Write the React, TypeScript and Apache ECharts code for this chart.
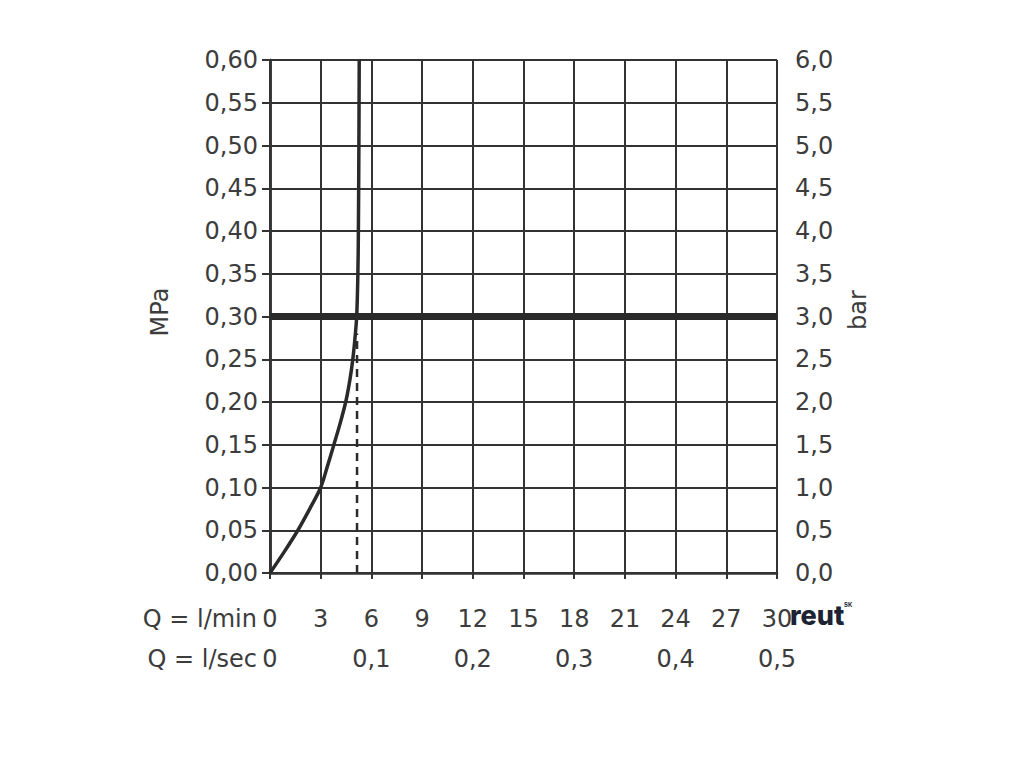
import React, { useEffect, useRef } from "react";
import * as echarts from "echarts";

const curvePressure = [0, 0.025, 0.05, 0.075, 0.1, 0.125, 0.15, 0.175, 0.2, 0.225, 0.25, 0.275, 0.3, 0.35, 0.4, 0.5, 0.6];
const curveFlow = [0, 0.85, 1.65, 2.35, 3.0, 3.4, 3.78, 4.15, 4.48, 4.72, 4.9, 5.03, 5.13, 5.2, 5.23, 5.26, 5.28];
const dashedFlow = 5.15;
const dashedTop = 0.28;
const limitPressure = 0.3;
const minTicks = [0, 3, 6, 9, 12, 15, 18, 21, 24, 27, 30];
const secTicks = [0, 0.1, 0.2, 0.3, 0.4, 0.5];

const FONT = "DejaVu Sans";
const TXT = "#3c3c3c";
const LINE = "#333333";

export default function App() {
  const ref = useRef<HTMLDivElement>(null);
  useEffect(() => {
    if (!ref.current) return;
    const chart = echarts.init(ref.current, undefined, { renderer: "svg" });
    const comma = (v: number, d: number) => v.toFixed(d).replace(".", ",");
    chart.setOption({
      animation: false,
      backgroundColor: "#ffffff",
      grid: { left: 270, right: 247, top: 60, bottom: 195, containLabel: false },
      xAxis: [
        {
          type: "value",
          min: minTicks[0],
          max: minTicks[minTicks.length - 1],
          interval: 3,
          position: "bottom",
          axisLine: { show: true, lineStyle: { color: LINE, width: 2.5 } },
          axisTick: { show: true, length: 6, lineStyle: { color: LINE, width: 2 } },
          splitLine: { show: true, lineStyle: { color: LINE, width: 2 } },
          axisLabel: {
            color: TXT, fontFamily: FONT, fontSize: 24, margin: 34,
            formatter: (v: number) => String(v),
          },
        },
        {
          type: "value",
          min: secTicks[0],
          max: secTicks[secTicks.length - 1],
          interval: 0.1,
          position: "bottom",
          offset: 40,
          axisLine: { show: false },
          axisTick: { show: false },
          splitLine: { show: false },
          axisLabel: {
            color: TXT, fontFamily: FONT, fontSize: 24, margin: 34,
            formatter: (v: number) => (v === 0 ? "0" : comma(v, 1)),
          },
        },
      ],
      yAxis: [
        {
          type: "value",
          min: 0,
          max: 0.6,
          interval: 0.05,
          position: "left",
          axisLine: { show: true, lineStyle: { color: LINE, width: 2.5 } },
          axisTick: { show: true, length: 8, lineStyle: { color: LINE, width: 2 } },
          splitLine: { show: true, lineStyle: { color: LINE, width: 2 } },
          axisLabel: {
            color: TXT, fontFamily: FONT, fontSize: 24, margin: 12,
            formatter: (v: number) => comma(v, 2),
          },
        },
        {
          type: "value",
          min: 0,
          max: 6,
          interval: 0.5,
          position: "right",
          axisLine: { show: true, lineStyle: { color: LINE, width: 2.5 } },
          axisTick: { show: true, length: 8, lineStyle: { color: LINE, width: 2 } },
          splitLine: { show: false },
          axisLabel: {
            color: TXT, fontFamily: FONT, fontSize: 24, margin: 18,
            formatter: (v: number) => comma(v, 1),
          },
        },
      ],
      series: [
        {
          type: "line",
          xAxisIndex: 0,
          yAxisIndex: 0,
          data: [[0, limitPressure], [30, limitPressure]],
          symbol: "none",
          lineStyle: { color: "#2a2a2a", width: 7 },
          z: 3,
        },
        {
          type: "line",
          xAxisIndex: 0,
          yAxisIndex: 0,
          data: [[dashedFlow, 0], [dashedFlow, dashedTop]],
          symbol: "none",
          lineStyle: { color: "#2a2a2a", width: 2.5, type: [8, 6] },
          z: 4,
        },
        {
          type: "line",
          xAxisIndex: 0,
          yAxisIndex: 0,
          data: curveFlow.map((q, i) => [q, curvePressure[i]]),
          symbol: "none",
          smooth: 0.3,
          lineStyle: { color: "#2a2a2a", width: 3.5 },
          z: 5,
        },
      ],
      graphic: [
        {
          type: "text", x: 257, y: 619,
          style: { text: "Q = l/min", font: `24px "${FONT}"`, fill: TXT, align: "right", verticalAlign: "middle" },
        },
        {
          type: "text", x: 257, y: 659,
          style: { text: "Q = l/sec", font: `24px "${FONT}"`, fill: TXT, align: "right", verticalAlign: "middle" },
        },
        {
          type: "text", x: 160, y: 312, rotation: Math.PI / 2,
          style: { text: "MPa", font: `24px "${FONT}"`, fill: TXT, align: "center", verticalAlign: "middle" },
        },
        {
          type: "text", x: 858, y: 310, rotation: Math.PI / 2,
          style: { text: "bar", font: `24px "${FONT}"`, fill: TXT, align: "center", verticalAlign: "middle" },
        },
        {
          type: "text", x: 790, y: 615, z: 10,
          style: { text: "reut", font: `800 27px "Inter"`, fill: "#1c2333", align: "left", verticalAlign: "middle" },
        },
        {
          type: "text", x: 844, y: 604, z: 10,
          style: { text: "SK", font: `700 6px "Inter"`, fill: "#1c2333", align: "left", verticalAlign: "middle" },
        },
      ],
    });
    return () => chart.dispose();
  }, []);
  return (
    <div
      ref={ref}
      style={{ position: "fixed", left: 0, top: 0, width: 1024, height: 768, background: "#fff" }}
    />
  );
}
